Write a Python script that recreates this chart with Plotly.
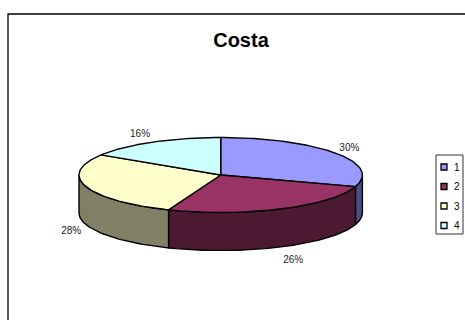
import numpy as np
import plotly.graph_objects as go

# ---- data ----
categories = ["1", "2", "3", "4"]
values = [30, 26, 28, 16]
labels = ["30%", "26%", "28%", "16%"]
top_colors = ["#9999FF", "#993366", "#FFFFCC", "#CCFFFF"]
side_colors = ["#4C4C80", "#4C1933", "#808066", "#668080"]
title = "Costa"

# ---- layout constants ----
W, H = 465, 320
cx, cy = 220.7, 175.0     # pie centre (axis units = screen pixels)
a, b = 141.7, 37.5        # ellipse radii
depth = 38.0              # pie thickness
FONT = "Liberation Sans, Arial, sans-serif"
LW = 1.4

fig = go.Figure()

total = float(sum(values))
starts, ends = [], []
s = 90.0
for v in values:
    e = s - 360.0 * v / total
    starts.append(s)
    ends.append(e)
    s = e


def pt(theta_deg, dy=0.0):
    t = np.radians(theta_deg)
    return cx + a * np.cos(t), cy - b * np.sin(t) + dy


# side walls (front half: angles between -180 and 0)
for i in range(len(values)):
    lo = max(ends[i], -180.0)
    hi = min(starts[i], 0.0)
    if hi <= lo:
        continue
    th = np.linspace(lo, hi, 60)
    xt, yt = pt(th)
    xb, yb = pt(th[::-1], depth)
    xs = np.concatenate([xt, xb, xt[:1]])
    ys = np.concatenate([yt, yb, yt[:1]])
    fig.add_trace(go.Scatter(x=xs, y=ys, mode="lines", fill="toself",
                             fillcolor=side_colors[i],
                             line=dict(color="black", width=LW),
                             hoverinfo="skip", showlegend=False))

# top faces
for i in range(len(values)):
    th = np.linspace(starts[i], ends[i], 80)
    xa, ya = pt(th)
    xs = np.concatenate([[cx], xa, [cx]])
    ys = np.concatenate([[cy], ya, [cy]])
    fig.add_trace(go.Scatter(x=xs, y=ys, mode="lines", fill="toself",
                             fillcolor=top_colors[i],
                             line=dict(color="black", width=LW),
                             hoverinfo="skip", showlegend=False))

# percentage labels, placed just outside the rim at each slice's mid angle
lx, ly = [], []
for i in range(len(values)):
    m = np.radians((starts[i] + ends[i]) / 2.0)
    c, sn = np.cos(m), np.sin(m)
    x0, y0 = cx + a * c, cy - b * sn + (depth if sn < 0 else 0.0)
    lx.append(x0 + 10 * np.sign(c) + 5 * c)
    ly.append(y0 - 12 * sn + 3)
fig.add_trace(go.Scatter(x=lx, y=ly, mode="text", text=labels,
                         textfont=dict(family=FONT, size=10, color="#222222"),
                         hoverinfo="skip", showlegend=False))

# legend (drawn as layout decorations)
LX = 436
shapes = [
    # outer chart border
    dict(type="rect", xref="x", yref="y", x0=8, x1=480, y0=14, y1=340,
         line=dict(color="black", width=1.3)),
    # legend box
    dict(type="rect", xref="x", yref="y", x0=LX, x1=LX + 27, y0=155, y1=234,
         line=dict(color="#333333", width=1), fillcolor="white"),
]
annotations = []
leg_y0, leg_dy = 167.0, 19.5
for i, c in enumerate(categories):
    yy = leg_y0 + i * leg_dy
    shapes.append(dict(type="rect", xref="x", yref="y",
                       x0=LX + 5, x1=LX + 11, y0=yy - 3, y1=yy + 3,
                       fillcolor=top_colors[i],
                       line=dict(color="black", width=1.3)))
    annotations.append(dict(x=LX + 16, y=yy, xref="x", yref="y", text=c,
                            showarrow=False, xanchor="left", yanchor="middle",
                            font=dict(family=FONT, size=10, color="black")))

fig.update_layout(
    width=W, height=H,
    margin=dict(l=0, r=0, t=0, b=0),
    paper_bgcolor="white", plot_bgcolor="white",
    title=dict(text="<b>" + title + "</b>", x=241 / W, xanchor="center",
               y=1 - 40 / H, yanchor="middle",
               font=dict(family=FONT, size=20, color="black")),
    xaxis=dict(range=[0, W], visible=False, fixedrange=True),
    yaxis=dict(range=[H, 0], visible=False, fixedrange=True),
    shapes=shapes,
    annotations=annotations,
    showlegend=False,
)

fig.write_html("out.html",
               config={"displayModeBar": False, "staticPlot": True},
               post_script="document.body.style.margin='0px';"
                           "document.body.style.overflow='hidden';")
